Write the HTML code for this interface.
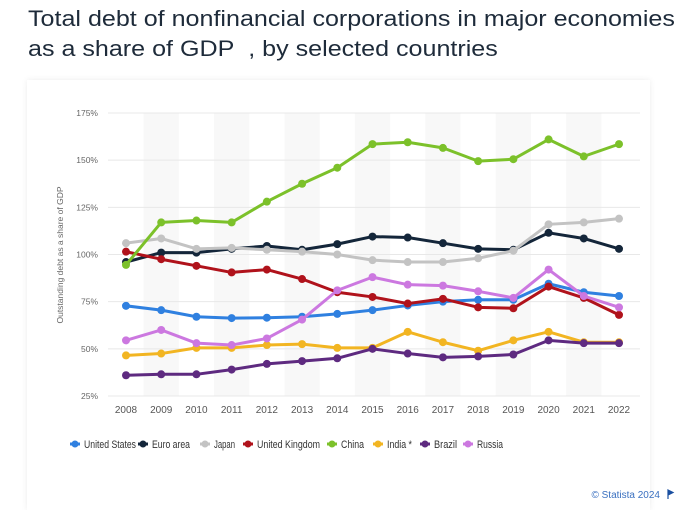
<!DOCTYPE html>
<html><head><meta charset="utf-8">
<style>
body{margin:0;width:690px;height:505px;background:#fff;font-family:"Liberation Sans",sans-serif;position:relative;overflow:hidden}
#title{position:absolute;left:28px;top:4px;font-size:22px;line-height:30px;color:#1e2b3a;transform-origin:0 0;transform:scaleX(1.14);white-space:nowrap}
#card{position:absolute;left:27px;top:80px;width:623px;height:430px;background:#fff;box-shadow:0 0 6px rgba(0,0,0,0.08)}
svg{position:absolute;left:0;top:0}
</style></head><body>
<div id="title">Total debt of nonfinancial corporations in major economies<br>as a share of GDP&nbsp; , by selected countries</div>
<div id="card"></div>
<svg id="chart" width="690" height="505"></svg>
<script>
const years=[2008,2009,2010,2011,2012,2013,2014,2015,2016,2017,2018,2019,2020,2021,2022];
const yTicks=[25,50,75,100,125,150,175];
const seriesNames=["United States","Euro area","Japan","United Kingdom","China","India *","Brazil","Russia"];
const seriesColors=["#2f80e0","#14263a","#c3c3c3","#b0121b","#7cc12a","#f2b522","#5e2a80","#cc78e0"];
const usValues=[72.8,70.5,67,66.3,66.5,67,68.5,70.5,73,75,76,76,84.5,80,78];
const euroValues=[96,101,101,103,104.5,102.5,105.5,109.5,109,106,103,102.5,111.5,108.5,103];
const japanValues=[106,108.5,103,103.5,102.5,101.5,100,97,96,96,98,102,116,117,119];
const ukValues=[101.5,97.5,94,90.5,92,87,80,77.5,74,76.5,72,71.5,83,77,68];
const chinaValues=[94.5,117,118,117,128,137.5,146,158.5,159.5,156.5,149.5,150.5,161,152,158.5];
const indiaValues=[46.5,47.5,50.5,50.5,52,52.5,50.5,50.5,59,53.5,49,54.5,59,53.5,53.5];
const brazilValues=[36,36.5,36.5,39,42,43.5,45,50,47.5,45.5,46,47,54.5,53,53];
const russiaValues=[54.5,60,53,52,55.5,65.5,81,88,84,83.5,80.5,77,92,78,72];
const allSeries=[usValues,euroValues,japanValues,ukValues,chinaValues,indiaValues,brazilValues,russiaValues];

const NS="http://www.w3.org/2000/svg";
const svg=document.getElementById('chart');
const x0=126,x1=619,yTop=113,yBot=396;
function xs(i){return x0+(x1-x0)*i/(years.length-1);}
function ys(v){return yBot-(v-25)*(yBot-yTop)/150;}
function mk(tag,attrs,parent){const e=document.createElementNS(NS,tag);for(const k in attrs)e.setAttribute(k,attrs[k]);(parent||svg).appendChild(e);return e;}
const step=(x1-x0)/(years.length-1);
years.forEach((y,i)=>{if(i%2===1){const r=mk('rect',{x:xs(i)-step/2,y:yTop,width:step,height:yBot-yTop,fill:'#f8f8f8'});

}});
yTicks.forEach(t=>{const l=mk('line',{x1:108,x2:640,y1:ys(t),y2:ys(t),stroke:'#e8e8e8','stroke-width':1});


const tx=mk('text',{x:98,y:ys(t)+3,'text-anchor':'end','font-size':8.5,fill:'#666'});tx.textContent=t+'%';

});
years.forEach((y,i)=>{const tx=mk('text',{x:xs(i),y:413,'text-anchor':'middle','font-size':10,fill:'#555'});tx.textContent=y;

});
const yt=mk('text',{x:0,y:0,'text-anchor':'middle','font-size':8.5,fill:'#666',transform:'translate(63,255) rotate(-90)'});
yt.textContent='Outstanding debt as a share of GDP';


allSeries.forEach((vals,s)=>{
const g=mk('g',{});


mk('polyline',{points:vals.map((v,i)=>xs(i)+','+ys(v)).join(' '),fill:'none',stroke:seriesColors[s],'stroke-width':3,'stroke-linejoin':'round'},g);
vals.forEach((v,i)=>{const c=mk('circle',{cx:xs(i),cy:ys(v),r:4,fill:seriesColors[s]},g);

});
});
const legX=[70,138,200,243,327,373,420,463];
const legW=[52,38,21,63,23,25,23,26];
seriesNames.forEach((n,s)=>{
const g=mk('g',{});


mk('line',{x1:legX[s],x2:legX[s]+10,y1:444,y2:444,stroke:seriesColors[s],'stroke-width':3},g);
mk('circle',{cx:legX[s]+5,cy:444,r:3.5,fill:seriesColors[s]},g);
const t=mk('text',{x:legX[s]+14,y:448,'font-size':11,fill:'#333',textLength:legW[s],lengthAdjust:'spacingAndGlyphs'},g);t.textContent=n;
});
const cr=mk('text',{x:660,y:498,'text-anchor':'end','font-size':10,fill:'#3a70c0'});cr.textContent='© Statista 2024';


const fl=mk('path',{d:'M668 490 v9 M668 490 l5 2.5 l-5 2.5 z',stroke:'#1a4fa0',fill:'#1a4fa0','stroke-width':1.2});


</script>
</body></html>
